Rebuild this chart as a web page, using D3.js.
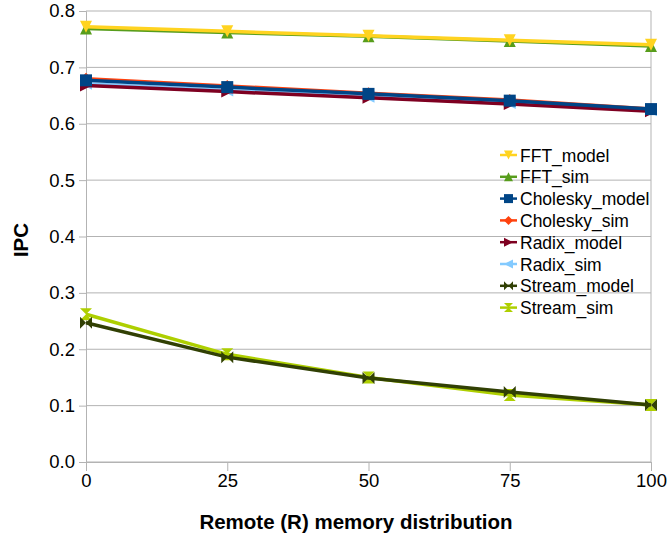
<!DOCTYPE html>
<html>
<head>
<meta charset="utf-8">
<script src="https://cdn.jsdelivr.net/npm/d3@7"></script>
<style>
  body { margin: 0; background: #fff; }
  text { font-family: "Liberation Sans", Arial, sans-serif; fill: #000; }
</style>
</head>
<body>
<div id="vis"></div>
<script>
// x positions (remote memory distribution)
const distributions = [0, 25, 50, 75, 100];
const yTicks = [0, 0.1, 0.2, 0.3, 0.4, 0.5, 0.6, 0.7, 0.8];

const seriesNames = ['FFT_model', 'FFT_sim', 'Cholesky_model', 'Cholesky_sim',
                     'Radix_model', 'Radix_sim', 'Stream_model', 'Stream_sim'];
const seriesColors = ['#ffd320', '#579d1c', '#004586', '#ff420e',
                      '#7e0021', '#83caff', '#314004', '#aecf00'];
const seriesSymbols = ['down', 'up', 'square', 'diamond', 'right', 'left', 'bowtie', 'hourglass'];

const fftModel = [0.772, 0.764, 0.756, 0.748, 0.740];
const fftSim = [0.769, 0.762, 0.755, 0.747, 0.738];
const choleskyModel = [0.677, 0.665, 0.653, 0.641, 0.626];
const choleskySim = [0.680, 0.667, 0.654, 0.642, 0.626];
const radixModel = [0.668, 0.657, 0.646, 0.635, 0.622];
const radixSim = [0.671, 0.659, 0.648, 0.637, 0.624];
const streamModel = [0.247, 0.186, 0.149, 0.124, 0.101];
const streamSim = [0.262, 0.191, 0.150, 0.119, 0.101];

const allSeries = [fftModel, fftSim, choleskyModel, choleskySim,
                   radixModel, radixSim, streamModel, streamSim];

// drawing order: later ones on top (as in the picture)
const drawOrder = [1, 0, 5, 3, 4, 2, 7, 6];

let margin = { left: 86, top: 11, right: 17, bottom: 78 };
let W = 668, H = 540;
let width = W - margin.left - margin.right;
let height = H - margin.top - margin.bottom;

let svg = d3.select('#vis').append('svg')
    .attr('width', W)
    .attr('height', H);

let xScale = d3.scaleLinear().domain([0, 100]).range([0, width]);
let yScale = d3.scaleLinear().domain([0, 0.8]).range([height, 0]);

let g = svg.append('g')
    .attr('transform', `translate(${margin.left}, ${margin.top})`);

// gridlines
g.selectAll('.grid').data(yTicks).enter().append('line')
    .attr('x1', 0).attr('x2', width)
    .attr('y1', d => yScale(d)).attr('y2', d => yScale(d))
    .attr('stroke', '#b3b3b3').attr('stroke-width', 1);

// right edge of plot
g.append('line')
    .attr('x1', width).attr('x2', width)
    .attr('y1', 0).attr('y2', height)
    .attr('stroke', '#b3b3b3');

// axes
let yAxis = d3.axisLeft(yScale).tickValues(yTicks).tickFormat(d3.format('.1f')).tickSize(7).tickPadding(4);
let xAxis = d3.axisBottom(xScale).tickValues(distributions).tickSize(9).tickPadding(3);

let yAxisG = g.append('g').call(yAxis);
let xAxisG = g.append('g').attr('transform', `translate(0, ${height})`).call(xAxis);

[yAxisG, xAxisG].forEach(ax => {
    ax.selectAll('path, line').attr('stroke', '#b3b3b3');
    ax.selectAll('text').style('font-size', '18.5px').style('font-family', '"Liberation Sans", Arial, sans-serif').attr('fill', '#000');
});

// axis titles
svg.append('text')
    .attr('x', 356)
    .attr('y', 529)
    .attr('text-anchor', 'middle')
    .style('font-size', '20.5px')
    .style('font-weight', 'bold')
    .text('Remote (R) memory distribution');

svg.append('text')
    .attr('transform', `translate(28, 240) rotate(-90)`)
    .attr('text-anchor', 'middle')
    .style('font-size', '20.5px')
    .style('font-weight', 'bold')
    .text('IPC');

// symbol path generators, size s = half-width
let symbolPath = (type, s) => {
    switch (type) {
        case 'square': return `M${-s},${-s}H${s}V${s}H${-s}Z`;
        case 'diamond': return `M0,${-s}L${s},0L0,${s}L${-s},0Z`;
        case 'down': return `M${-s},${-s}H${s}L0,${s}Z`;
        case 'up': return `M${-s},${s}H${s}L0,${-s}Z`;
        case 'right': return `M${-s},${-s}L${s},0L${-s},${s}Z`;
        case 'left': return `M${s},${-s}L${-s},0L${s},${s}Z`;
        case 'bowtie': return `M${-s},${-s}L0,0L${-s},${s}ZM${s},${-s}L0,0L${s},${s}Z`;
        case 'hourglass': return `M${-s},${-s}H${s}L0,0ZM${-s},${s}H${s}L0,0Z`;
    }
};

let line = d3.line()
    .x((d, i) => xScale(distributions[i]))
    .y(d => yScale(d));

drawOrder.forEach(si => {
    let data = allSeries[si];
    let color = seriesColors[si];
    g.append('path')
        .datum(data)
        .attr('d', line)
        .attr('fill', 'none')
        .attr('stroke', color)
        .attr('stroke-width', 3.5);
    g.selectAll(null).data(data).enter().append('path')
        .attr('transform', (d, i) => `translate(${xScale(distributions[i])}, ${yScale(d)})`)
        .attr('d', symbolPath(seriesSymbols[si], 6))
        .attr('fill', color);
});

// legend
let legend = svg.append('g').attr('transform', 'translate(500, 155)');
seriesNames.forEach((name, i) => {
    let row = legend.append('g').attr('transform', `translate(0, ${i * 21.8})`);
    row.append('line')
        .attr('x1', 0).attr('x2', 17)
        .attr('y1', 0).attr('y2', 0)
        .attr('stroke', seriesColors[i])
        .attr('stroke-width', 2.5);
    row.append('path')
        .attr('transform', 'translate(8.5, 0)')
        .attr('d', symbolPath(seriesSymbols[i], 4.5))
        .attr('fill', seriesColors[i]);
    row.append('text')
        .attr('x', 20)
        .attr('y', 6.5)
        .style('font-size', '17.5px')
        .text(name);
});
</script>
</body>
</html>
